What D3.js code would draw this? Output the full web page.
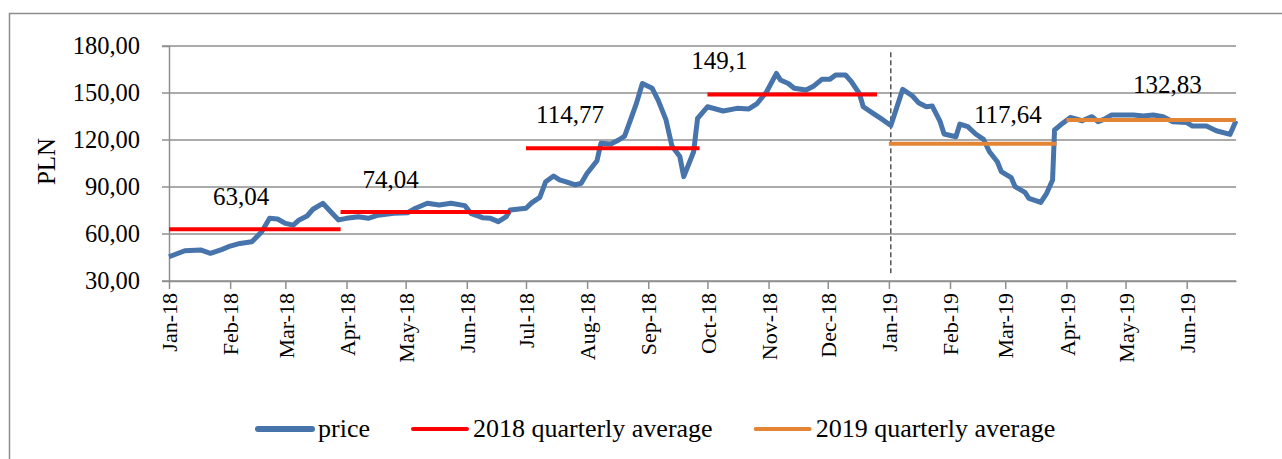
<!DOCTYPE html>
<html>
<head>
<meta charset="utf-8">
<script src="https://cdn.jsdelivr.net/npm/d3@7"></script>
<style>
  body { margin: 0; background: #fff; }
  text { font-family: "Liberation Serif", serif; fill: #000; }
</style>
</head>
<body>
<svg id="chart" width="1282" height="459"></svg>
<script>
// price series
const priceDates = [
  "2018-01-01","2018-01-09","2018-01-17","2018-01-22","2018-01-28","2018-02-01","2018-02-06","2018-02-12",
  "2018-02-17","2018-02-21","2018-02-25","2018-03-01","2018-03-05","2018-03-08","2018-03-12","2018-03-15",
  "2018-03-20","2018-03-24","2018-03-28","2018-04-01","2018-04-07","2018-04-12","2018-04-17","2018-04-25",
  "2018-05-02","2018-05-06","2018-05-12","2018-05-18","2018-05-24","2018-05-31","2018-06-03","2018-06-09",
  "2018-06-13","2018-06-17","2018-06-21","2018-06-23","2018-07-01","2018-07-04","2018-07-08","2018-07-11",
  "2018-07-15","2018-07-18","2018-07-21","2018-07-26","2018-07-29","2018-08-01","2018-08-06","2018-08-08",
  "2018-08-13","2018-08-17","2018-08-20","2018-08-23","2018-08-26","2018-08-29","2018-09-03","2018-09-06",
  "2018-09-10","2018-09-13","2018-09-17","2018-09-19","2018-09-24","2018-09-26","2018-10-01","2018-10-09",
  "2018-10-16","2018-10-22","2018-10-26","2018-10-31","2018-11-05","2018-11-07","2018-11-11","2018-11-14",
  "2018-11-20","2018-11-24","2018-11-28","2018-12-02","2018-12-05","2018-12-10","2018-12-13","2018-12-17",
  "2018-12-19","2018-12-24","2018-12-29","2019-01-02","2019-01-08","2019-01-13","2019-01-16","2019-01-20",
  "2019-01-23","2019-01-27","2019-01-29","2019-02-04","2019-02-06","2019-02-10","2019-02-14","2019-02-18",
  "2019-02-21","2019-02-25","2019-02-27","2019-03-04","2019-03-06","2019-03-11","2019-03-13","2019-03-19",
  "2019-03-22","2019-03-25","2019-03-26","2019-03-30","2019-04-03","2019-04-09","2019-04-14","2019-04-17",
  "2019-04-20","2019-04-24","2019-05-05","2019-05-10","2019-05-15","2019-05-20","2019-05-25","2019-06-01",
  "2019-06-04","2019-06-11","2019-06-16","2019-06-23","2019-06-26"
];
const priceValues = [
  45.5, 49.3, 49.8, 47.7, 50.2, 52.3, 54.0, 55.0,
  61.5, 70.0, 69.6, 66.8, 65.7, 69.0, 71.5, 75.8,
  79.6, 74.2, 69.0, 70.0, 71.0, 70.0, 72.0, 73.2,
  73.6, 76.4, 79.6, 78.5, 79.6, 78.1, 73.2, 70.4,
  70.0, 67.9, 71.1, 75.3, 76.4, 80.0, 83.4, 93.4,
  97.0, 94.5, 93.4, 91.3, 92.4, 98.8, 106.8, 117.9,
  117.4, 120.0, 122.5, 132.8, 143.4, 156.1, 153.0, 145.5,
  132.8, 116.2, 109.4, 96.6, 112.5, 133.8, 141.2, 138.5,
  140.2, 139.8, 143.0, 150.8, 162.5, 158.3, 156.1, 153.0,
  151.9, 154.5, 158.7, 158.7, 161.5, 161.5, 157.2, 149.8,
  141.2, 137.0, 132.8, 129.2, 152.3, 148.1, 143.8, 141.2,
  141.7, 131.7, 123.8, 122.1, 130.2, 128.5, 123.8, 120.4,
  112.5, 106.1, 99.8, 96.0, 90.2, 86.6, 82.8, 80.2,
  86.0, 94.5, 126.4, 130.6, 134.4, 132.3, 134.9, 131.7,
  133.2, 136.0, 136.0, 135.3, 136.0, 134.9, 131.7, 131.1,
  128.9, 128.9, 125.9, 123.6, 132.3
];

// quarterly averages
const quarterValues = [63.04, 74.04, 114.77, 149.1, 117.64, 132.83];
const quarterYears = [2018, 2018, 2018, 2018, 2019, 2019];
const quarterStart = ["2018-01-01","2018-03-29","2018-07-01","2018-10-01","2019-01-01","2019-04-01"];
const quarterEnd = ["2018-03-29","2018-06-23","2018-09-27","2018-12-26","2019-03-27","2019-06-26"];

const yTicks = [30, 60, 90, 120, 150, 180];
const splitDate = "2019-01-02";
const seriesNames = ["price", "2018 quarterly average", "2019 quarterly average"];

// layout only
const labelOffsets = [[72, 24], [50, 24], [44, 25], [12, 25], [119, 21], [101, 27]];
const colors = { price: "#4674ab", 2018: "#ff0000", 2019: "#e38535" };

const parse = d3.timeParse("%Y-%m-%d");
const pl = d3.formatLocale({ decimal: ",", thousands: " ", grouping: [3], currency: ["", " zł"] });

const price = priceDates.map((d, i) => ({ date: parse(d), value: priceValues[i] }));
const quarters = quarterValues.map((v, i) => ({
  value: v, year: quarterYears[i], start: parse(quarterStart[i]), end: parse(quarterEnd[i])
}));

const svg = d3.select("#chart");
const margin = { left: 169, right: 46, top: 46, bottom: 178 };
const width = 1282, height = 459;

const x = d3.scaleTime()
  .domain([parse("2018-01-01"), parse("2019-06-26")])
  .range([margin.left, width - margin.right]);
const y = d3.scaleLinear()
  .domain([30, 180])
  .range([height - margin.bottom, margin.top]);

// outer frame
svg.append("rect")
  .attr("x", 9.5).attr("y", 13.5)
  .attr("width", 1300).attr("height", 500)
  .attr("fill", "none").attr("stroke", "#8c8c8c").attr("stroke-width", 1.5);

// gridlines
svg.append("g").selectAll("line")
  .data(yTicks)
  .enter().append("line")
  .attr("x1", margin.left - 7).attr("x2", width - margin.right)
  .attr("y1", d => y(d)).attr("y2", d => y(d))
  .attr("stroke", "#8f8f8f").attr("stroke-width", 1.5);

// y axis
const yAxis = svg.append("g")
  .attr("transform", `translate(${margin.left},0)`)
  .call(d3.axisLeft(y).tickValues(yTicks).tickFormat(pl.format(".2f")).tickSize(7).tickPadding(22));
yAxis.select(".domain").attr("stroke", "#8f8f8f").attr("stroke-width", 1.5);
yAxis.selectAll(".tick line").attr("stroke", "none");
yAxis.selectAll("text").attr("font-size", 24.5).attr("font-family", "Liberation Serif").attr("fill", "#000");

// x axis
const xAxis = svg.append("g")
  .attr("transform", `translate(0,${y(30)})`)
  .call(d3.axisBottom(x).ticks(d3.timeMonth.every(1)).tickFormat(d3.timeFormat("%b-%y")).tickSize(8).tickSizeOuter(0));
xAxis.select(".domain").attr("stroke", "#8f8f8f").attr("stroke-width", 1.5);
xAxis.selectAll(".tick line").attr("stroke", "#8f8f8f").attr("stroke-width", 1.5);
xAxis.selectAll("text")
  .attr("font-size", 22).attr("font-family", "Liberation Serif").attr("fill", "#000")
  .attr("text-anchor", "end")
  .attr("transform", "rotate(-90)")
  .attr("x", -12).attr("y", 0).attr("dy", "0.35em");

// axis title
svg.append("text")
  .attr("transform", `translate(55,${(y(30) + y(180)) / 2 - 2}) rotate(-90)`)
  .attr("text-anchor", "middle")
  .attr("font-size", 25)
  .text("PLN");

// dashed separator
svg.append("line")
  .attr("x1", x(parse(splitDate))).attr("x2", x(parse(splitDate)))
  .attr("y1", y(176)).attr("y2", y(35))
  .attr("stroke", "#000").attr("stroke-width", 1).attr("stroke-dasharray", "5,3");

// price line
const line = d3.line().x(d => x(d.date)).y(d => y(d.value));
svg.append("path")
  .datum(price)
  .attr("d", line)
  .attr("fill", "none")
  .attr("stroke", colors.price)
  .attr("stroke-width", 5)
  .attr("stroke-linejoin", "round");

// quarterly averages
svg.append("g").selectAll("line")
  .data(quarters)
  .enter().append("line")
  .attr("x1", d => x(d.start)).attr("x2", d => x(d.end))
  .attr("y1", d => y(d.value)).attr("y2", d => y(d.value))
  .attr("stroke", d => colors[d.year])
  .attr("stroke-width", 4);

svg.append("g").selectAll("text")
  .data(quarters)
  .enter().append("text")
  .attr("x", (d, i) => x(d.start) + labelOffsets[i][0])
  .attr("y", (d, i) => y(d.value) - labelOffsets[i][1])
  .attr("text-anchor", "middle")
  .attr("font-size", 25)
  .text(d => String(d.value).replace(".", ","));

// legend
const legendColors = [colors.price, colors[2018], colors[2019]];
const legendWidths = [6, 4, 4];
const legend = svg.append("g").attr("transform", "translate(258,429)");
let lx = 0;
seriesNames.forEach((name, i) => {
  const g = legend.append("g").attr("transform", `translate(${lx},0)`);
  g.append("line")
    .attr("x1", 0).attr("x2", 54)
    .attr("stroke", legendColors[i])
    .attr("stroke-width", legendWidths[i])
    .attr("stroke-linecap", "round");
  const t = g.append("text")
    .attr("x", 60).attr("y", 8)
    .attr("font-size", 26)
    .text(name);
  lx += 60 + t.node().getComputedTextLength() + 43;
});
</script>
</body>
</html>
